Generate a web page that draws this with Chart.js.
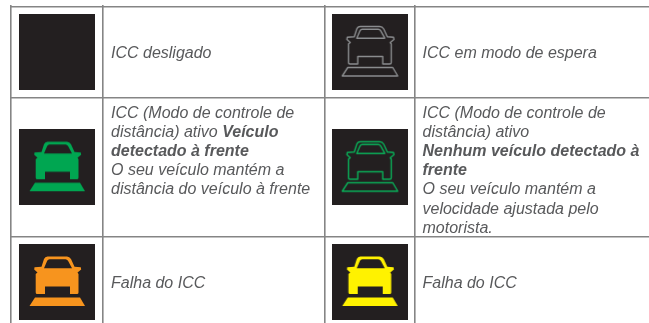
<!DOCTYPE html>
<html><head><meta charset="utf-8">
<script src="https://cdn.jsdelivr.net/npm/chart.js@4/dist/chart.umd.min.js"></script>
<style>html,body{margin:0;padding:0;background:#fff}canvas{display:block}</style>
</head><body><canvas id="c" width="649" height="323"></canvas>
<script>
// Table content
const cellColumns = [0, 1, 0, 1, 0, 1];
const cellRows = [0, 0, 1, 1, 2, 2];
const iconNames = ['off', 'standby', 'vehicleAhead', 'noVehicleAhead', 'failureOrange', 'failureYellow'];
const descriptions = [
  [[['ICC desligado', false]]],
  [[['ICC em modo de espera', false]]],
  [[['ICC (Modo de controle de', false]],
   [['distância) ativo ', false], ['Veículo', true]],
   [['detectado à frente', true]],
   [['O seu veículo mantém a', false]],
   [['distância do veículo à frente', false]]],
  [[['ICC (Modo de controle de', false]],
   [['distância) ativo', false]],
   [['Nenhum veículo detectado à', true]],
   [['frente', true]],
   [['O seu veículo mantém a', false]],
   [['velocidade ajustada pelo', false]],
   [['motorista.', false]]],
  [[['Falha do ICC', false]]],
  [[['Falha do ICC', false]]]
];
// Icon styles
const iconStyle = {
  off: null,
  standby: { color: '#8a8c8e', outline: true },
  vehicleAhead: { color: '#00a651', outline: false },
  noVehicleAhead: { color: '#0aae58', outline: true },
  failureOrange: { color: '#f7941e', outline: false },
  failureYellow: { color: '#fff200', outline: false }
};
// Table geometry, in page pixels
const columnEdges = [11, 103, 325, 414.5];
const rowEdges = [6.5, 97.5, 237, 327];
const textInset = 8;
const lineHeight = 19.2;
const iconSize = 76;

function bodyPath(p) {
  p.moveTo(28.5, 12.5); p.lineTo(48, 12.5); p.quadraticCurveTo(50.5, 12.5, 52, 15);
  p.lineTo(55.5, 22.7); p.lineTo(61.8, 23.3); p.lineTo(62.2, 25.5); p.lineTo(58.5, 28.5);
  p.lineTo(59.5, 30); p.lineTo(59.5, 48.5); p.quadraticCurveTo(59.5, 50, 58, 50); p.lineTo(51, 50);
  p.lineTo(51, 42.5); p.lineTo(26, 42.5); p.lineTo(26, 50); p.lineTo(18.2, 50);
  p.quadraticCurveTo(16.7, 50, 16.7, 48.5); p.lineTo(16.7, 30); p.lineTo(18.5, 28.5);
  p.lineTo(15.2, 25.5); p.lineTo(15.5, 23.3); p.lineTo(22.5, 22.7); p.lineTo(25, 15);
  p.quadraticCurveTo(26, 12.5, 28.5, 12.5); p.closePath();
}
function windowPath(p) {
  p.moveTo(30.5, 15.3); p.lineTo(46.5, 15.3); p.quadraticCurveTo(48, 15.3, 49, 16.8);
  p.lineTo(53, 24.2); p.lineTo(25, 24.2); p.lineTo(28.2, 16.8);
  p.quadraticCurveTo(29, 15.3, 30.5, 15.3); p.closePath();
}
function roadPath(p) {
  p.moveTo(16, 53.5); p.lineTo(61, 53.5); p.lineTo(66, 62); p.lineTo(10.5, 62); p.closePath();
}
function makeIcon(style) {
  const cv = document.createElement('canvas');
  cv.width = iconSize; cv.height = iconSize;
  const g = cv.getContext('2d');
  g.fillStyle = '#231f20';
  g.fillRect(0, 0, iconSize, iconSize);
  if (!style) return cv;
  const car = new Path2D(), win = new Path2D(), road = new Path2D();
  bodyPath(car); windowPath(win); roadPath(road);
  if (style.outline) {
    g.strokeStyle = style.color; g.lineWidth = 1.4; g.lineJoin = 'round';
    g.stroke(car); g.stroke(win); g.stroke(road);
  } else {
    const all = new Path2D(); bodyPath(all); windowPath(all);
    g.fillStyle = style.color;
    g.fill(all, 'evenodd'); g.fill(road);
  }
  return cv;
}

const mid = (edges, i) => (edges[i] + edges[i + 1]) / 2;

const tableText = {
  id: 'tableText',
  afterDatasetsDraw(chart) {
    const { ctx, scales: { x, y } } = chart;
    ctx.save();
    ctx.fillStyle = '#58595b';
    ctx.textBaseline = 'alphabetic';
    ctx.textAlign = 'left';
    descriptions.forEach((lines, i) => {
      const left = x.getPixelForValue(columnEdges[cellColumns[i] * 2 + 1] + textInset);
      const centre = y.getPixelForValue(mid(rowEdges, cellRows[i]));
      const rowTop = y.getPixelForValue(rowEdges[cellRows[i]]);
      // long cells start at the top of the row, short ones sit at its middle
      const firstBaseline = lines.length > 1 ? rowTop + 20 : centre + 6;
      lines.forEach((runs, l) => {
        let cx = left;
        runs.forEach(([text, bold]) => {
          ctx.font = (bold ? 'italic bold ' : 'italic ') + '16px "Liberation Sans"';
          ctx.fillText(text, cx, firstBaseline + l * lineHeight);
          cx += ctx.measureText(text).width;
        });
      });
    });
    ctx.restore();
  }
};

new Chart(document.getElementById('c'), {
  type: 'scatter',
  data: {
    datasets: [{
      data: iconNames.map((n, i) => ({
        x: mid(columnEdges, cellColumns[i] * 2),
        y: mid(rowEdges, cellRows[i])
      })),
      pointStyle: iconNames.map(n => makeIcon(iconStyle[n])),
      pointRadius: iconSize / 2,
      pointHoverRadius: iconSize / 2
    }]
  },
  options: {
    responsive: false,
    animation: false,
    events: [],
    layout: { autoPadding: false, padding: { left: 10, top: 5, right: 0, bottom: 0 } },
    plugins: { legend: { display: false }, tooltip: { enabled: false }, title: { display: false } },
    scales: {
      x: {
        type: 'linear', min: 10, max: 649,
        afterBuildTicks: s => { s.ticks = columnEdges.map(v => ({ value: v })); },
        ticks: { display: false },
        border: { display: false },
        grid: { color: '#858585', lineWidth: 1.6, drawTicks: false }
      },
      y: {
        type: 'linear', min: 5, max: 323, reverse: true,
        afterBuildTicks: s => { s.ticks = rowEdges.slice(0, 3).map(v => ({ value: v })); },
        ticks: { display: false },
        border: { display: false },
        grid: { color: '#858585', lineWidth: 1.6, drawTicks: false }
      }
    }
  },
  plugins: [tableText]
});
</script></body></html>
